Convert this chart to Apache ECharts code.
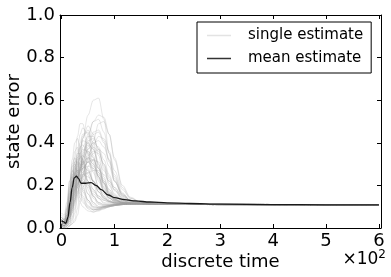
<!DOCTYPE html>
<html><head><meta charset="utf-8">
<script src="https://cdn.jsdelivr.net/npm/echarts@6/dist/echarts.min.js"></script>
<style>html,body{margin:0;padding:0;background:#fff}#c{width:391px;height:277px}</style>
</head><body><div id="c"></div>
<script>
// time grid for the single estimates
const timeGrid = [0,5,10,15,20,25,30,35,40,50,60,70,80,90,100,115,130,150,180,220,300,450,600];
// single estimate curves (state error at each time in timeGrid)
const single01 = [.03,.02,.10,.22,.27,.25,.21,.17,.14,.10,.085,.09,.10,.105,.11,.112,.113,.113,.112,.111,.110,.109,.109];
const single02 = [.05,.04,.08,.18,.30,.33,.30,.25,.20,.13,.095,.09,.095,.10,.105,.11,.112,.113,.112,.111,.110,.109,.108];
const single03 = [.02,.01,.03,.12,.26,.36,.38,.34,.28,.18,.12,.10,.10,.105,.11,.112,.114,.114,.113,.112,.110,.109,.109];
const single04 = [.04,.03,.05,.14,.24,.28,.27,.23,.19,.13,.10,.095,.10,.105,.11,.113,.114,.114,.113,.112,.111,.110,.109];
const single05 = [.01,.01,.04,.16,.32,.40,.42,.38,.32,.21,.14,.11,.105,.108,.11,.113,.114,.114,.113,.112,.110,.109,.108];
const single06 = [.03,.03,.06,.10,.17,.20,.19,.16,.13,.09,.075,.08,.09,.10,.105,.11,.112,.113,.112,.111,.110,.109,.109];
const single07 = [.06,.05,.09,.20,.29,.30,.26,.21,.17,.12,.09,.085,.09,.10,.105,.11,.112,.113,.112,.111,.110,.109,.109];
const single08 = [.02,.02,.05,.13,.22,.31,.35,.35,.31,.22,.15,.12,.11,.11,.112,.114,.115,.115,.113,.112,.110,.109,.108];
const single09 = [.03,.02,.04,.09,.19,.27,.32,.33,.30,.22,.15,.115,.105,.105,.108,.112,.114,.114,.113,.112,.111,.109,.109];
const single10 = [.04,.03,.07,.17,.25,.26,.23,.19,.15,.105,.085,.085,.095,.10,.105,.11,.112,.113,.112,.111,.110,.109,.109];
const single11 = [.02,.01,.02,.06,.14,.26,.36,.44,.47,.44,.34,.24,.17,.14,.125,.118,.116,.115,.113,.112,.110,.109,.108];
const single12 = [.03,.02,.03,.07,.15,.24,.32,.38,.41,.40,.33,.24,.18,.145,.13,.12,.117,.115,.113,.112,.110,.109,.109];
const single13 = [.01,.01,.02,.04,.09,.16,.24,.31,.36,.40,.37,.29,.21,.16,.135,.122,.118,.115,.113,.112,.111,.110,.109];
const single14 = [.02,.02,.04,.10,.18,.25,.29,.31,.31,.28,.22,.17,.14,.125,.118,.115,.114,.114,.113,.112,.110,.109,.108];
const single15 = [.04,.03,.05,.11,.19,.26,.30,.33,.34,.32,.26,.19,.15,.13,.12,.116,.115,.114,.113,.112,.110,.109,.109];
const single16 = [.02,.01,.02,.05,.11,.19,.27,.35,.42,.48,.44,.34,.24,.17,.14,.124,.118,.116,.114,.112,.111,.110,.109];
const single17 = [.03,.02,.03,.08,.16,.22,.26,.28,.29,.27,.22,.17,.14,.125,.118,.115,.114,.114,.113,.112,.110,.109,.108];
const single18 = [.01,.00,.01,.03,.07,.13,.20,.27,.32,.36,.33,.26,.19,.15,.13,.12,.116,.115,.113,.112,.111,.110,.109];
const single19 = [.05,.04,.06,.12,.20,.24,.25,.24,.23,.20,.17,.15,.135,.125,.12,.116,.115,.114,.113,.112,.110,.109,.109];
const single20 = [.02,.02,.03,.06,.12,.20,.29,.37,.43,.46,.40,.30,.21,.16,.135,.12,.116,.115,.113,.112,.110,.109,.108];
const single21 = [.03,.02,.04,.09,.16,.21,.23,.23,.22,.19,.16,.14,.13,.122,.118,.115,.114,.114,.113,.112,.110,.109,.109];
const single22 = [.00,.00,.01,.02,.04,.09,.16,.23,.28,.31,.28,.22,.17,.14,.125,.118,.116,.115,.113,.112,.111,.110,.109];
const single23 = [.02,.01,.02,.05,.11,.18,.26,.34,.42,.53,.60,.61,.51,.35,.22,.15,.125,.117,.114,.112,.111,.110,.109];
const single24 = [.03,.02,.03,.06,.11,.16,.22,.28,.33,.42,.50,.53,.52,.44,.32,.19,.14,.12,.115,.112,.111,.110,.109];
const single25 = [.02,.02,.03,.07,.13,.19,.24,.29,.33,.40,.45,.46,.41,.32,.23,.155,.13,.12,.115,.112,.111,.110,.109];
const single26 = [.04,.03,.04,.08,.13,.17,.20,.23,.26,.31,.35,.37,.35,.29,.22,.16,.13,.12,.115,.112,.110,.109,.109];
const single27 = [.01,.01,.02,.04,.08,.12,.16,.20,.24,.32,.39,.43,.42,.36,.27,.18,.14,.12,.115,.113,.111,.110,.109];
const single28 = [.03,.02,.04,.08,.14,.19,.23,.26,.28,.31,.32,.31,.27,.22,.18,.14,.125,.118,.114,.112,.110,.109,.108];
const single29 = [.02,.02,.03,.06,.10,.15,.20,.25,.30,.38,.44,.45,.40,.31,.22,.155,.13,.12,.115,.112,.111,.110,.109];
const single30 = [.05,.04,.05,.09,.14,.18,.21,.23,.24,.26,.27,.27,.25,.22,.19,.15,.13,.12,.115,.112,.110,.109,.109];
const single31 = [.02,.01,.02,.05,.09,.13,.17,.21,.25,.33,.41,.49,.50,.44,.33,.20,.145,.12,.115,.112,.111,.110,.109];
const single32 = [.03,.03,.04,.08,.13,.18,.22,.27,.31,.37,.40,.38,.32,.25,.19,.145,.125,.118,.114,.112,.110,.109,.109];
const single33 = [.01,.00,.00,.01,.02,.04,.09,.17,.25,.33,.30,.23,.17,.14,.125,.118,.115,.114,.113,.112,.110,.109,.109];
const single34 = [.02,.01,.01,.01,.02,.03,.06,.12,.19,.29,.32,.28,.21,.16,.135,.12,.116,.115,.113,.112,.111,.110,.109];
const single35 = [.00,.00,.00,.01,.03,.07,.14,.21,.25,.26,.22,.17,.14,.125,.118,.115,.114,.114,.113,.112,.110,.109,.108];
const single36 = [.03,.02,.09,.19,.22,.19,.15,.12,.10,.08,.075,.085,.095,.10,.105,.11,.112,.113,.112,.111,.110,.109,.109];
const single37 = [.07,.06,.12,.22,.24,.21,.17,.14,.12,.095,.085,.09,.10,.105,.108,.11,.112,.113,.112,.111,.110,.109,.109];
const single38 = [.02,.01,.03,.09,.20,.33,.43,.49,.49,.35,.21,.14,.115,.11,.11,.113,.114,.114,.113,.112,.110,.109,.108];
const single39 = [.02,.02,.04,.11,.21,.29,.33,.34,.32,.25,.18,.14,.12,.115,.113,.114,.114,.114,.113,.112,.110,.109,.109];
const single40 = [.03,.02,.03,.08,.15,.23,.30,.35,.37,.36,.31,.24,.18,.15,.13,.12,.116,.115,.113,.112,.110,.109,.108];
const single41 = [.01,.01,.02,.05,.10,.17,.24,.30,.35,.41,.42,.37,.29,.21,.16,.13,.12,.116,.114,.112,.111,.110,.109];
const single42 = [.04,.03,.06,.14,.23,.29,.31,.30,.27,.20,.15,.12,.11,.108,.11,.112,.113,.114,.113,.112,.110,.109,.109];
const single43 = [.02,.01,.02,.06,.12,.18,.23,.27,.30,.34,.36,.35,.30,.24,.18,.14,.125,.118,.114,.112,.111,.110,.109];
const single44 = [.03,.03,.05,.12,.20,.25,.27,.27,.26,.22,.18,.15,.13,.12,.115,.114,.114,.114,.113,.112,.110,.109,.108];
const single45 = [.02,.02,.03,.07,.13,.20,.27,.33,.38,.43,.43,.37,.28,.20,.155,.128,.118,.115,.113,.112,.111,.110,.109];
const single46 = [.05,.04,.07,.15,.22,.25,.24,.21,.18,.13,.10,.095,.10,.105,.108,.111,.113,.113,.112,.111,.110,.109,.109];
const single47 = [.01,.01,.02,.04,.08,.14,.21,.28,.34,.44,.50,.51,.45,.35,.25,.165,.13,.12,.115,.112,.111,.110,.109];
const single48 = [.03,.02,.04,.09,.17,.24,.28,.30,.30,.27,.22,.18,.15,.13,.12,.115,.114,.114,.113,.112,.110,.109,.109];
const single49 = [.02,.02,.03,.08,.16,.25,.33,.40,.44,.45,.38,.28,.20,.155,.13,.12,.116,.115,.113,.112,.110,.109,.108];
const single50 = [.04,.03,.05,.10,.17,.22,.25,.27,.28,.29,.28,.25,.21,.17,.145,.125,.118,.115,.113,.112,.110,.109,.109];
const single51 = [.02,.01,.02,.05,.09,.14,.19,.24,.28,.35,.38,.36,.30,.23,.175,.135,.12,.116,.114,.112,.111,.110,.109];
const single52 = [.03,.02,.06,.16,.26,.31,.31,.28,.24,.16,.11,.095,.095,.10,.105,.11,.112,.113,.112,.111,.110,.109,.109];
const single53 = [.01,.00,.01,.02,.05,.11,.19,.27,.33,.39,.37,.30,.22,.165,.135,.12,.116,.115,.113,.112,.111,.110,.109];
const single54 = [.02,.02,.03,.07,.14,.21,.26,.29,.31,.31,.29,.26,.22,.18,.15,.13,.12,.116,.114,.112,.110,.109,.108];
const single55 = [.03,.02,.04,.10,.19,.27,.34,.38,.39,.35,.27,.19,.145,.125,.115,.113,.114,.114,.113,.112,.110,.109,.109];
const single56 = [.02,.01,.02,.05,.10,.16,.22,.28,.32,.37,.40,.41,.38,.32,.24,.16,.13,.12,.115,.112,.111,.110,.109];
const single57 = [.04,.04,.06,.13,.21,.26,.27,.25,.22,.16,.12,.10,.10,.103,.107,.111,.113,.113,.112,.111,.110,.109,.109];
const single58 = [.02,.02,.03,.07,.13,.19,.24,.28,.31,.33,.32,.28,.23,.18,.15,.128,.118,.115,.113,.112,.110,.109,.108];
const single59 = [.01,.01,.01,.03,.07,.13,.20,.26,.30,.33,.30,.24,.19,.155,.135,.12,.116,.115,.113,.112,.111,.110,.109];
const single60 = [.03,.03,.05,.11,.18,.22,.24,.25,.25,.24,.22,.19,.16,.14,.127,.118,.115,.114,.113,.112,.110,.109,.109];
const singles = [single01,single02,single03,single04,single05,single06,single07,single08,single09,single10,
  single11,single12,single13,single14,single15,single16,single17,single18,single19,single20,
  single21,single22,single23,single24,single25,single26,single27,single28,single29,single30,
  single31,single32,single33,single34,single35,single36,single37,single38,single39,single40,
  single41,single42,single43,single44,single45,single46,single47,single48,single49,single50,
  single51,single52,single53,single54,single55,single56,single57,single58,single59,single60];
// mean estimate
const meanTime = [0,3,8,12,16,20,24,28,32,37,45,56,65,75,88,100,119,140,167,200,243,300,400,500,600];
const meanValue = [0.035,0.03,0.022,0.05,0.12,0.19,0.235,0.243,0.232,0.21,0.21,0.213,0.2,0.18,0.155,0.143,0.133,0.127,0.122,0.118,0.115,0.112,0.11,0.109,0.109];
// ticks
const xTicks = [0,100,200,300,400,500,600];

const FONT = 'DejaVu Sans';
const chart = echarts.init(document.getElementById('c'), null, {renderer:'canvas'});
const GREY = 'rgba(160,160,160,0.26)';
const series = singles.map(s => ({
  name:'single estimate', type:'line', xAxisIndex:0, yAxisIndex:0,
  data: timeGrid.map((t,i)=>[t,s[i]]), showSymbol:false, symbol:'none',
  smooth:0.35, smoothMonotone:'x',
  lineStyle:{color:GREY, width:1}, itemStyle:{color:'rgba(200,200,200,0.5)'},
  silent:true, z:1
}));
series.push({
  name:'mean estimate', type:'line', xAxisIndex:0, yAxisIndex:0,
  data: meanTime.map((t,i)=>[t,meanValue[i]]), showSymbol:false, symbol:'none',
  smooth:0.35, smoothMonotone:'x',
  lineStyle:{color:'#1a1a1a', width:1.3}, itemStyle:{color:'#333'}, z:3
});
const axisCommon = {
  axisLine:{show:true, onZero:false, lineStyle:{color:'#000', width:1}},
  splitLine:{show:false}
};
chart.setOption({
  animation:false,
  grid:{left:60, right:10, top:15, bottom:49, containLabel:false, outerBoundsMode:'none'},
  legend:{
    orient:'vertical', left:197, top:22, width:160,
    data:['single estimate','mean estimate'],
    icon:'rect', itemWidth:24, itemHeight:1.5, itemGap:8,
    borderColor:'#000', borderWidth:1, borderRadius:0,
    padding:[6,8,7,10],
    textStyle:{fontFamily:FONT, fontSize:15, color:'#000', padding:[0,0,0,12]},
    selectedMode:false
  },
  xAxis:[
    Object.assign({type:'value', min:-3, max:604, position:'bottom',
      axisTick:{show:true, inside:true, length:4, customValues:xTicks, lineStyle:{color:'#000'}},
      axisLabel:{show:true, customValues:xTicks, margin:4, fontFamily:FONT, fontSize:18, color:'#000',
        formatter:v=>String(Math.round(v/100))},
      name:'discrete time', nameLocation:'middle', nameGap:25, nameMoveOverlap:false,
      nameTextStyle:{fontFamily:FONT, fontSize:18, color:'#000'}}, axisCommon),
    Object.assign({type:'value', min:-3, max:604, position:'top',
      axisTick:{show:true, inside:true, length:4, customValues:xTicks, lineStyle:{color:'#000'}},
      axisLabel:{show:false}}, axisCommon)
  ],
  yAxis:[
    Object.assign({type:'value', min:0, max:1, interval:0.2, position:'left',
      axisTick:{show:true, inside:true, length:4, lineStyle:{color:'#000'}},
      axisLabel:{show:true, margin:5, fontFamily:FONT, fontSize:18, color:'#000', formatter:v=>v.toFixed(1)},
      name:'state error', nameLocation:'middle', nameGap:37, nameRotate:90, nameMoveOverlap:false,
      nameTextStyle:{fontFamily:FONT, fontSize:18, color:'#000'}}, axisCommon),
    Object.assign({type:'value', min:0, max:1, interval:0.2, position:'right',
      axisTick:{show:true, inside:true, length:4, lineStyle:{color:'#000'}},
      axisLabel:{show:false}}, axisCommon)
  ],
  graphic:[{
    type:'text', right:5, top:249,
    style:{text:'{a|×10}{b|2}', rich:{
      a:{fontFamily:FONT, fontSize:17, color:'#000'},
      b:{fontFamily:FONT, fontSize:12, color:'#000', verticalAlign:'top', padding:[0,0,9,0]}
    }}
  }],
  series:series
});
</script></body></html>
